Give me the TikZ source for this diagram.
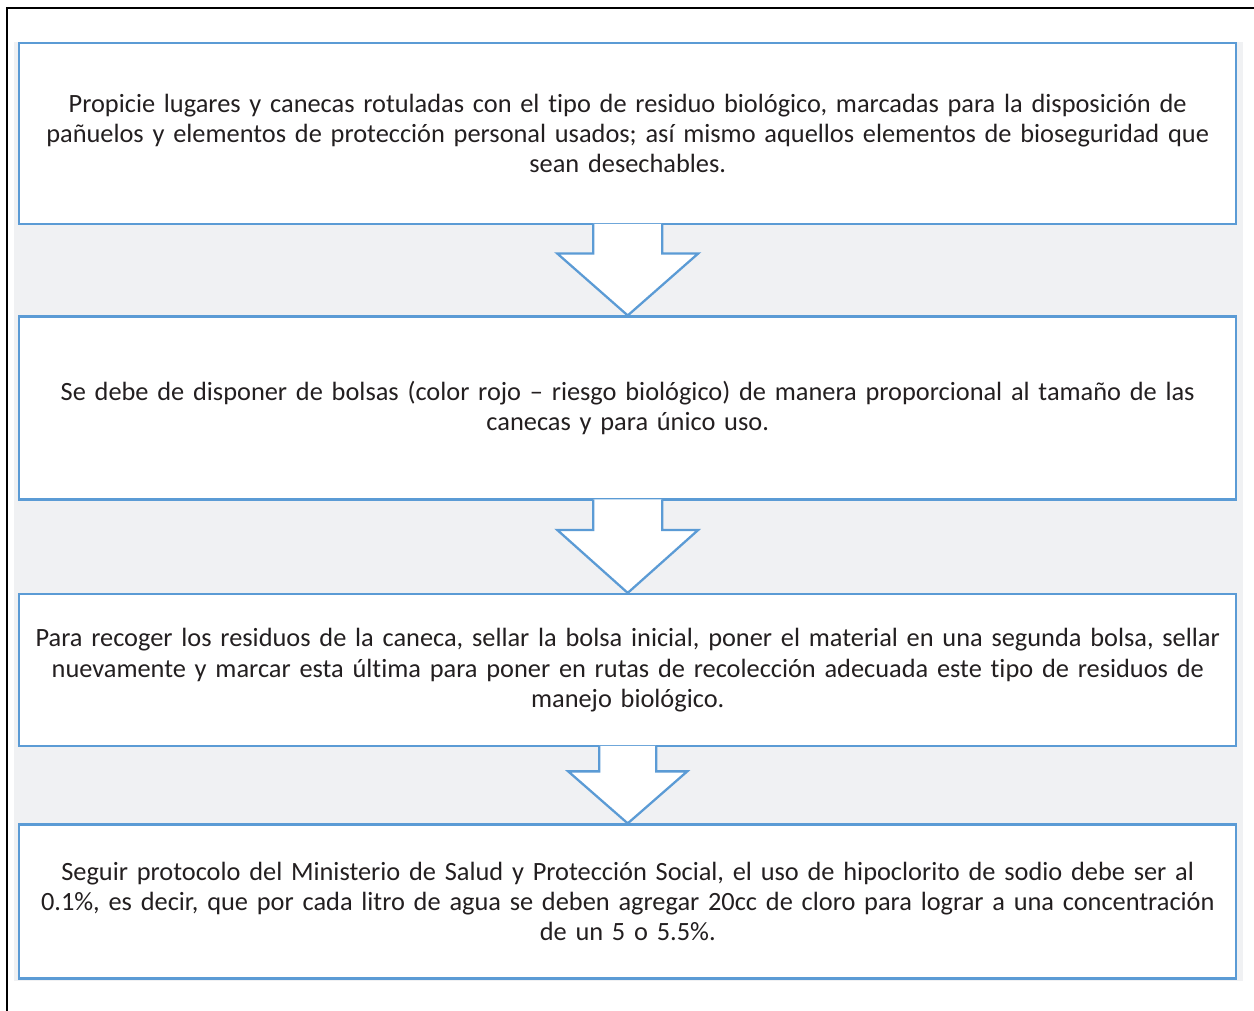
\documentclass[tikz,border=0pt]{standalone}
\usepackage{fontspec}
\setmainfont{Carlito}[Ligatures=NoCommon]
\usetikzlibrary{positioning,calc}
\definecolor{boxblue}{RGB}{91,155,213}
\definecolor{panelgray}{RGB}{240,241,243}
\definecolor{txtgray}{RGB}{35,31,32}

\begin{document}
\begin{tikzpicture}[
stepbox/.style={draw=boxblue,line width=1.4pt,fill=white,rectangle,minimum width=24.34cm,text width=24.3cm,align=center,inner sep=0pt,font=\fontsize{15}{17.1}\selectfont,text=txtgray},
flowarrow/.style={draw=boxblue,line width=1.3pt,fill=white,line join=miter}]
\useasboundingbox (0,0) rectangle (25.08,-20.2);
\fill[panelgray] (0.28,-0.84) rectangle (24.86,-19.62);
\draw[line width=1.6pt] (0.14,-20.6) -- (0.14,-0.16) -- (25.5,-0.16);

\node (residuos) [stepbox,minimum height=3.62cm,anchor=north west] at (0.36,-0.84)
    {Propicie lugares y canecas rotuladas con el tipo de residuo biológico, marcadas para la disposición de\\
     pañuelos y elementos de protección personal usados; así mismo aquellos elementos de bioseguridad que\\
     sean desechables.};
\node (bolsas) [stepbox,minimum height=3.66cm,below=1.80cm of residuos]
    {Se debe de disponer de bolsas (color rojo – riesgo biológico) de manera proporcional al tamaño de las\\
     canecas y para único uso.};
\node (recoger) [stepbox,minimum height=3.04cm,below=1.84cm of bolsas]
    {Para recoger los residuos de la caneca, sellar la bolsa inicial, poner el material en una segunda bolsa, sellar\\
     nuevamente y marcar esta última para poner en rutas de recolección adecuada este tipo de residuos de\\
     manejo biológico.};
\node (protocolo) [stepbox,minimum height=3.08cm,below=1.52cm of recoger]
    {Seguir protocolo del Ministerio de Salud y Protección Social, el uso de hipoclorito de sodio debe ser al\\
     0.1\%, es decir, que por cada litro de agua se deben agregar 20cc de cloro para lograr a una concentración\\
     de un 5 o 5.5\%.};

% block arrows between the steps
\draw[flowarrow] ($(residuos.south)+(-0.69,0.03)$) |- ($(residuos.south)+(-1.41,-0.56)$)
    -- (bolsas.north) -- ($(residuos.south)+(1.41,-0.56)$) -| ($(residuos.south)+(0.69,0.03)$);
\draw[flowarrow] ($(bolsas.south)+(-0.69,0.03)$) |- ($(bolsas.south)+(-1.41,-0.58)$)
    -- (recoger.north) -- ($(bolsas.south)+(1.41,-0.58)$) -| ($(bolsas.south)+(0.69,0.03)$);
\draw[flowarrow] ($(recoger.south)+(-0.57,0.03)$) |- ($(recoger.south)+(-1.19,-0.48)$)
    -- (protocolo.north) -- ($(recoger.south)+(1.19,-0.48)$) -| ($(recoger.south)+(0.57,0.03)$);
\end{tikzpicture}
\end{document}
